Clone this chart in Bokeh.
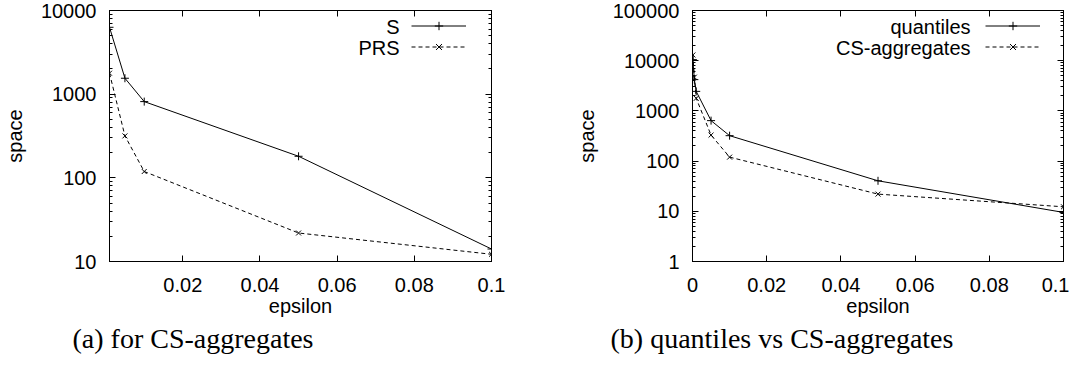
from bokeh.plotting import figure
from bokeh.layouts import row
from bokeh.models import (LogAxis, LinearAxis, Legend, LegendItem, Label, Title,
                          FixedTicker, LogTicker, NumeralTickFormatter, Range1d,
                          CustomJSTickFormatter)
from bokeh.embed import file_html
from bokeh.resources import INLINE

# ---- panel (a): for CS-aggregates ----
eps_a = [0.001, 0.005, 0.01, 0.05, 0.1]
s_space = [6300, 1550, 815, 181, 14.1]
prs_space = [1780, 317, 119, 21.9, 12.2]
x_ticks_a = [0.02, 0.04, 0.06, 0.08, 0.1]

# ---- panel (b): quantiles vs CS-aggregates ----
eps_b = [0.0001, 0.0005, 0.001, 0.005, 0.01, 0.05, 0.1]
quant_space = [10500, 4200, 2450, 640, 321, 40.5, 9.5]
csagg_space = [13000, 4700, 1780, 330, 120, 22, 12.3]
x_ticks_b = [0, 0.02, 0.04, 0.06, 0.08, 0.1]

SANS = "Liberation Sans"
SERIF = "Liberation Serif"
FS = "20px"


def style_axis(ax, show_labels=True):
    ax.axis_line_color = "black"
    ax.major_tick_line_color = "black"
    ax.minor_tick_line_color = "black"
    ax.major_tick_in = 6
    ax.major_tick_out = 0
    ax.minor_tick_in = 3
    ax.minor_tick_out = 0
    ax.major_label_text_font = SANS
    ax.major_label_text_color = "black"
    if show_labels:
        ax.major_label_text_font_size = FS
        ax.major_label_standoff = 16
    else:
        ax.formatter = CustomJSTickFormatter(code="return '';")
        ax.major_label_text_font_size = "1px"
        ax.major_label_standoff = 0
    ax.axis_label_text_font = SANS
    ax.axis_label_text_font_size = FS
    ax.axis_label_text_font_style = "normal"
    ax.axis_label_text_color = "black"


def make_panel(xs, ya, yb, name_a, name_b, x_range, y_range, x_ticks,
               frame_w, border_l, border_r, caption, cap_offset, leg_x, lab_x):
    p = figure(x_range=Range1d(*x_range), y_range=Range1d(*y_range), y_axis_type="log",
               frame_width=frame_w, frame_height=251,
               min_border_left=border_l, min_border_right=border_r,
               min_border_top=10, min_border_bottom=10,
               output_backend="svg", toolbar_location=None)
    p.grid.visible = False
    p.outline_line_color = "black"
    p.outline_line_width = 1
    p.background_fill_color = "white"
    p.border_fill_color = "white"

    xax = p.xaxis[0]
    xax.ticker = FixedTicker(ticks=x_ticks, minor_ticks=[])
    xax.formatter = CustomJSTickFormatter(
        code="return tick.toFixed(2).replace(/0+$/, '').replace(/\\.$/, '');")
    xax.axis_label = "epsilon"
    xax.axis_label_standoff = 0
    style_axis(xax)

    yax = p.yaxis[0]
    yax.ticker = LogTicker(num_minor_ticks=10)
    yax.formatter = NumeralTickFormatter(format="0")
    yax.axis_label = "space"
    yax.axis_label_standoff = 12
    style_axis(yax)
    yax.major_label_standoff = 13

    top = LinearAxis(ticker=FixedTicker(ticks=x_ticks, minor_ticks=[]))
    style_axis(top, show_labels=False)
    p.add_layout(top, "above")
    right = LogAxis(ticker=LogTicker(num_minor_ticks=10))
    style_axis(right, show_labels=False)
    p.add_layout(right, "right")

    la = p.line(xs, ya, line_color="black", line_width=1)
    ma = p.scatter(xs, ya, marker="cross", size=8, line_color="black", line_width=1)
    lb = p.line(xs, yb, line_color="black", line_width=1, line_dash="4 3")
    mb = p.scatter(xs, yb, marker="x", size=7, line_color="black", line_width=1)

    leg = Legend(items=[LegendItem(label=" ", renderers=[la, ma]),
                        LegendItem(label=" ", renderers=[lb, mb])],
                 location=(leg_x, 204), glyph_width=55, glyph_height=21,
                 label_width=1, label_height=21, label_standoff=0, spacing=0,
                 padding=0, margin=0, border_line_color=None, background_fill_alpha=0,
                 label_text_font_size="8px")
    p.add_layout(leg)
    for name, yy in ((name_a, 235), (name_b, 214)):
        p.add_layout(Label(x=lab_x, y=yy, x_units="screen", y_units="screen", text=name,
                           text_align="right", text_baseline="middle",
                           text_font=SANS, text_font_size=FS, text_color="black"))

    cap = Title(text=caption, align="left", offset=cap_offset, text_font=SERIF,
                text_font_size="28px", text_font_style="normal", text_color="black",
                standoff=2)
    p.add_layout(cap, "below")
    return p


p1 = make_panel(eps_a, s_space, prs_space, "S", "PRS", (0.001, 0.1), (10, 10000), x_ticks_a,
                382, 106, 44, "(a) for CS-aggregates", -37, 302, 290)
p2 = make_panel(eps_b, quant_space, csagg_space, "quantiles", "CS-aggregates", (0, 0.1),
                (1, 100000), x_ticks_b, 371, 157, 6, "(b) quantiles vs CS-aggregates", -82, 293, 278)

layout = row(p1, p2)
open("out.html", "w").write(file_html(layout, INLINE))
